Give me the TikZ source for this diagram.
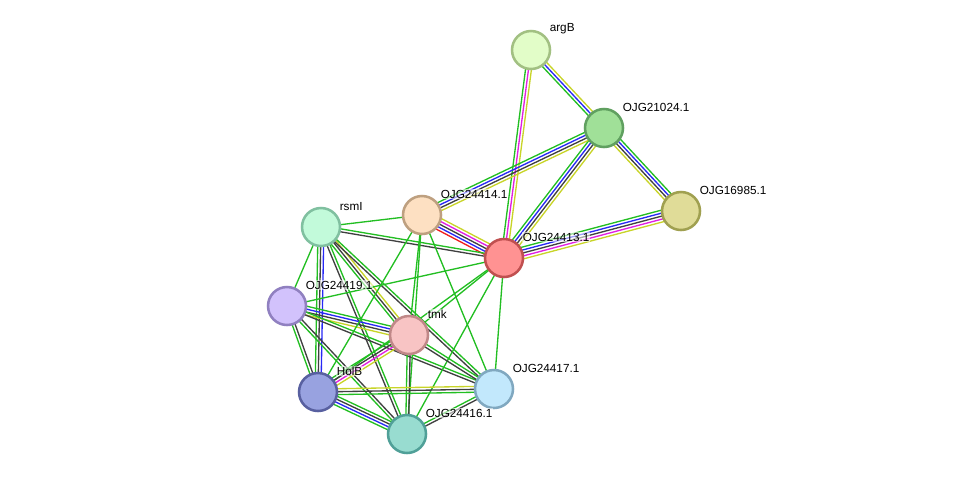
\documentclass[tikz,border=0pt]{standalone}
\usepackage{fontspec}
\setmainfont{Liberation Sans}
\usetikzlibrary{calc,backgrounds}
\definecolor{eg}{RGB}{34,190,34}
\definecolor{eb}{RGB}{40,40,245}
\definecolor{ek}{RGB}{64,64,64}
\definecolor{em}{RGB}{225,30,225}
\definecolor{ey}{RGB}{200,212,40}
\definecolor{er}{RGB}{240,30,30}
\newcommand{\bundle}[4]{%
  \foreach \c [count=\i] in {#4}{%
    \pgfmathsetmacro{\off}{(\i-(#3+1)/2)*2.2}%
    \draw[edgeline,color=\c] ($(#1)!\off pt!90:(#2)$) -- ($(#2)!\off pt!-90:(#1)$);
  }%
}
\begin{document}
\begin{tikzpicture}[x=0.75pt,y=-0.75pt,
  prot/.style={circle,minimum size=28.5pt,inner sep=0pt,line width=1.9pt},
  edgeline/.style={line width=1pt},
  lab/.style={anchor=west,inner sep=0.4pt,fill=white,fill opacity=0.55,text opacity=1,font=\fontsize{8.8}{10}\selectfont}]
\useasboundingbox (0,0) rectangle (975,479);
% proteins
\node[prot,fill={rgb,255:red,226;green,253;blue,200},draw={rgb,255:red,162;green,192;blue,130}] (argB) at (531,50) {};
\node[prot,fill={rgb,255:red,160;green,224;blue,152},draw={rgb,255:red,96;green,160;blue,96}] (o21024) at (604,128) {};
\node[prot,fill={rgb,255:red,224;green,220;blue,152},draw={rgb,255:red,160;green,160;blue,80}] (o16985) at (681,211) {};
\node[prot,fill={rgb,255:red,255;green,146;blue,146},draw={rgb,255:red,192;green,80;blue,80}] (o24413) at (504,258) {};
\node[prot,fill={rgb,255:red,253;green,224;blue,194},draw={rgb,255:red,190;green,160;blue,128}] (o24414) at (422,215) {};
\node[prot,fill={rgb,255:red,194;green,250;blue,218},draw={rgb,255:red,128;green,192;blue,160}] (rsmI) at (321,227) {};
\node[prot,fill={rgb,255:red,210;green,194;blue,252},draw={rgb,255:red,144;green,128;blue,192}] (o24419) at (287,306) {};
\node[prot,fill={rgb,255:red,248;green,196;blue,196},draw={rgb,255:red,192;green,136;blue,136}] (tmk) at (409,335) {};
\node[prot,fill={rgb,255:red,152;green,162;blue,224},draw={rgb,255:red,88;green,96;blue,160}] (HolB) at (318,392) {};
\node[prot,fill={rgb,255:red,194;green,232;blue,252},draw={rgb,255:red,128;green,168;blue,192}] (o24417) at (494,389) {};
\node[prot,fill={rgb,255:red,152;green,220;blue,208},draw={rgb,255:red,80;green,160;blue,152}] (o24416) at (407,434) {};
% labels
\node[lab] (largB) at (549,29) {argB};
\node[lab] (l21024) at (622,107) {OJG21024.1};
\node[lab] (l16985) at (699,190) {OJG16985.1};
\node[lab] (l24413) at (522,237) {OJG24413.1};
\node[lab] (l24414) at (440,194) {OJG24414.1};
\node[lab] (lrsmI) at (339,207) {rsmI};
\node[lab] (l24419) at (305,285) {OJG24419.1};
\node[lab] (ltmk) at (427,314) {tmk};
\node[lab] (lHolB) at (336,371) {HolB};
\node[lab] (l24417) at (512,368) {OJG24417.1};
\node[lab] (l24416) at (425,413) {OJG24416.1};
% edges
\begin{pgfonlayer}{background}
\bundle{argB}{o21024}{3}{eg,eb,ey}
\bundle{argB}{o24413}{3}{eg,em,ey}
\bundle{o21024}{o16985}{4}{ey,ek,eb,eg}
\bundle{o21024}{o24413}{4}{eg,eb,ek,ey}
\bundle{o21024}{o24414}{4}{eg,eb,ek,ey}
\bundle{o16985}{o24413}{5}{eg,eb,ek,em,ey}
\bundle{o24414}{o24413}{5}{er,eb,ek,em,ey}
\bundle{rsmI}{o24414}{1}{eg}
\bundle{rsmI}{o24413}{2}{ek,eg}
\bundle{rsmI}{o24419}{1}{eg}
\bundle{rsmI}{HolB}{3}{eg,ek,eb}
\bundle{rsmI}{tmk}{3}{eg,ek,ey}
\bundle{rsmI}{o24417}{2}{ek,eg}
\bundle{rsmI}{o24416}{2}{ek,eg}
\bundle{o24419}{tmk}{4}{ey,ek,eb,eg}
\bundle{o24419}{o24413}{1}{eg}
\bundle{o24419}{HolB}{2}{eg,ek}
\bundle{o24419}{o24416}{2}{eg,ek}
\bundle{o24419}{o24417}{2}{ek,eg}
\bundle{o24414}{tmk}{1}{eg}
\bundle{o24414}{o24416}{1}{eg}
\bundle{o24414}{o24417}{1}{eg}
\bundle{o24414}{HolB}{1}{eg}
\bundle{o24413}{tmk}{1}{eg}
\bundle{o24413}{o24417}{1}{eg}
\bundle{o24413}{o24416}{1}{eg}
\bundle{o24413}{HolB}{1}{eg}
\bundle{tmk}{HolB}{4}{eg,ek,em,ey}
\bundle{tmk}{o24417}{2}{ek,eg}
\bundle{tmk}{o24416}{2}{eg,ek}
\bundle{HolB}{o24417}{3}{eg,ek,ey}
\bundle{HolB}{o24416}{4}{eg,eb,ek,eg}
\bundle{o24416}{o24417}{2}{ek,eg}
\end{pgfonlayer}
\end{tikzpicture}
\end{document}
